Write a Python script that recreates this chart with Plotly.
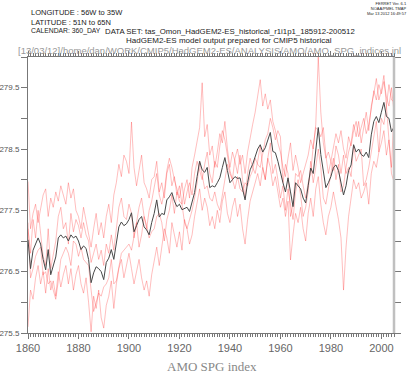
import plotly.graph_objects as go

years = list(range(1860, 2006))

ens_mean = [
    277.02, 276.55, 276.85, 276.95, 277.05, 276.95, 276.70, 276.53, 276.86, 276.45,
    276.60, 276.74, 277.05, 277.10, 277.05, 277.08, 277.00, 277.10, 277.05, 277.08,
    277.00, 276.86, 276.92, 276.88, 276.70, 276.32, 276.48, 276.58, 276.55, 276.50,
    276.37, 276.65, 276.72, 276.86, 276.70, 276.95, 277.23, 277.31, 277.25, 277.28,
    277.35, 277.46, 277.15, 277.25, 277.35, 277.40, 277.23, 277.18, 277.10, 277.30,
    277.45, 277.67, 277.39, 277.45, 277.43, 277.67, 277.72, 277.79, 277.65, 277.56,
    277.60, 277.51, 277.53, 277.55, 277.48, 277.62, 277.79, 278.05, 278.30, 278.16,
    278.12, 278.20, 277.87, 277.90, 277.88, 277.95, 278.03, 278.20, 278.36, 278.15,
    277.95, 278.00, 278.05, 278.02, 278.03, 277.85, 277.67, 277.95, 278.16, 278.25,
    278.37, 278.50, 278.57, 278.45, 278.52, 278.65, 278.77, 278.46, 278.44, 278.30,
    278.11, 277.95, 277.80, 278.03, 277.80, 277.56, 277.95, 277.90, 277.85, 277.70,
    277.62, 277.90, 278.19, 278.10, 278.45, 278.85, 278.41, 278.10, 277.87, 277.95,
    278.05, 278.20, 278.24, 278.15, 277.95, 277.75, 277.90, 278.15, 278.24, 278.57,
    278.45, 278.50, 278.41, 278.38, 278.45, 278.36, 278.73, 278.95, 279.03, 278.93,
    279.10, 279.26, 279.03, 279.00, 278.78, 278.86,
]

member_r1 = [
    277.97, 277.20, 277.45, 277.60, 277.30, 277.55, 277.75, 277.85, 277.40, 277.70,
    277.55, 277.80, 277.65, 277.90, 277.75, 277.60, 277.95, 277.70, 277.85, 277.50,
    277.40, 277.20, 277.55, 277.35, 277.10, 276.90, 277.20, 277.45, 277.10, 277.30,
    277.05, 277.40, 277.60, 277.30, 277.75, 277.95, 278.25, 278.05, 278.40, 278.30,
    278.10, 278.94, 278.20, 277.90, 278.15, 278.40, 277.95, 277.85, 277.70, 278.00,
    278.05, 278.30, 277.80, 277.95, 277.70, 278.10, 278.25, 277.90, 278.05, 277.75,
    277.90, 277.60, 277.85, 278.00, 277.70, 278.20, 278.40, 278.60, 278.85, 279.58,
    278.70, 278.90, 278.40, 278.55, 278.20, 278.45, 278.75, 278.60, 278.95, 278.50,
    278.20, 278.45, 278.30, 278.10, 278.40, 278.00, 277.70, 278.10, 278.35, 278.20,
    278.10, 278.30, 278.55, 278.20, 278.00, 278.35, 278.60, 278.10, 278.25, 278.00,
    277.70, 277.90, 277.50, 277.85, 277.60, 277.35, 277.80, 278.00, 277.75, 277.40,
    277.55, 277.80, 278.30, 277.95, 278.20, 278.50, 278.20, 277.70, 277.60, 277.85,
    278.10, 278.35, 278.00, 278.25, 277.80, 277.90, 278.20, 278.45, 278.60, 278.90,
    278.70, 278.95, 278.60, 278.85, 279.10, 278.80, 279.20, 279.40, 279.65, 279.30,
    279.45, 279.70, 279.20, 279.55, 279.30, 279.27,
]

member_r2 = [
    275.60, 276.20, 276.05, 276.40, 276.60, 276.30, 276.50, 276.15, 276.55, 276.20,
    276.35, 276.10, 276.50, 276.25, 276.45, 276.60, 276.30, 276.55, 276.20, 276.45,
    276.60, 276.30, 276.15, 276.40, 276.00, 275.52, 276.10, 275.90, 276.20, 275.75,
    275.58, 275.95, 276.10, 276.35, 275.90, 276.30, 276.55, 276.70, 276.40, 276.60,
    276.80, 276.55, 276.30, 276.50, 276.70, 276.40, 276.20, 276.35, 276.10, 276.45,
    276.70, 276.90, 276.60, 276.95, 277.20, 277.05, 276.80, 277.30, 277.10, 276.90,
    277.15, 276.85, 277.35, 277.20, 276.95, 277.10, 277.40, 277.60, 277.85, 277.50,
    277.70, 277.55, 277.25, 277.40, 277.20, 277.50, 277.30, 277.65, 277.80, 277.45,
    277.30, 277.55, 277.70, 277.40, 277.60, 277.20, 276.95, 277.35, 277.65, 277.80,
    277.95, 278.10, 277.90, 278.20, 278.00, 278.35, 278.20, 277.90, 278.05, 277.80,
    277.55, 277.70, 277.40, 277.65, 276.69, 277.10, 277.45, 277.30, 277.55, 277.20,
    277.00, 277.45, 277.70, 277.40, 277.85, 278.05, 277.60, 277.30, 277.10, 277.40,
    277.55, 277.80, 277.60, 277.35, 277.05, 276.20, 276.90, 277.40, 277.70, 278.00,
    277.85, 277.95, 277.70, 277.80, 277.95, 277.60, 278.10, 278.30, 278.20, 278.45,
    278.60, 278.80, 278.40, 278.65, 278.10, 277.96,
]

member_r3 = [
    277.20, 276.80, 277.35, 277.05, 277.50, 277.10, 276.75, 276.60, 277.20, 276.55,
    276.80, 277.00, 277.40, 277.55, 277.20, 277.30, 276.95, 277.45, 277.15, 277.35,
    277.25, 277.05, 277.30, 277.10, 277.00, 276.65, 276.80, 276.95, 276.70, 276.85,
    276.60, 276.95, 276.80, 277.10, 276.85, 277.20, 277.55, 277.70, 277.40, 277.35,
    277.60, 277.45, 277.05, 277.30, 277.55, 277.70, 277.40, 277.20, 277.50, 277.65,
    277.85, 278.10, 277.75, 277.60, 277.80, 278.15, 278.35, 278.20, 278.00, 277.85,
    277.70, 277.95, 277.60, 277.80, 277.95, 277.75, 278.10, 278.30, 278.15, 278.00,
    278.25, 278.45, 278.10, 277.95, 278.30, 278.20, 278.55, 278.80, 278.65, 278.40,
    278.15, 278.00, 278.35, 278.50, 278.25, 278.40, 278.10, 278.45, 278.70, 278.90,
    279.10, 279.35, 279.63, 279.20, 279.40, 279.15, 279.30, 278.95, 278.80, 278.60,
    278.45, 278.20, 278.05, 278.35, 278.60, 278.15, 278.40, 278.20, 277.95, 278.10,
    278.25, 278.40, 278.65, 278.50, 278.90, 280.00, 279.10, 278.60, 278.35, 278.45,
    278.30, 278.55, 278.75, 278.60, 278.80, 278.50, 278.35, 278.70, 278.55, 278.80,
    278.95, 278.70, 278.85, 279.00, 278.75, 278.90, 279.15, 279.45, 279.30, 279.55,
    279.40, 279.60, 279.35, 279.20, 279.50, 279.10,
]

member_r4 = [
    277.30, 276.40, 276.55, 276.75, 276.85, 276.90, 276.45, 276.50, 276.30, 276.35,
    276.20, 276.05, 276.35, 276.70, 276.80, 276.90, 276.80, 276.60, 277.00, 276.95,
    276.75, 276.90, 276.70, 276.65, 276.60, 276.20, 275.85, 276.00, 276.15, 276.10,
    276.25, 276.30, 276.40, 276.70, 276.30, 276.35, 276.60, 276.80, 276.85, 276.90,
    276.95, 276.85, 277.05, 277.30, 276.90, 277.10, 277.40, 277.25, 277.05, 277.15,
    277.20, 277.40, 277.45, 277.30, 277.00, 277.35, 277.50, 277.75, 277.45, 277.80,
    277.65, 277.60, 277.30, 277.20, 277.35, 277.50, 277.70, 277.95, 278.30, 278.10,
    277.85, 277.90, 277.70, 277.65, 277.80, 277.60, 277.50, 277.75, 278.00, 278.25,
    278.10, 278.00, 277.85, 278.05, 277.85, 277.80, 277.95, 277.90, 278.05, 278.15,
    278.35, 278.25, 278.20, 278.40, 278.65, 278.75, 279.00, 278.85, 278.65, 278.80,
    278.70, 277.95, 278.25, 278.10, 277.40, 277.60, 278.10, 278.05, 278.15, 277.90,
    277.70, 277.95, 278.10, 278.55, 278.85, 278.80, 278.70, 278.85, 278.40, 278.10,
    278.30, 278.15, 278.55, 278.40, 278.10, 278.40, 278.10, 278.20, 278.05, 278.55,
    278.30, 278.40, 278.50, 277.90, 278.00, 278.20, 278.45, 278.70, 278.95, 278.45,
    279.00, 278.90, 279.20, 278.65, 278.20, 279.10,
]

members = [member_r1, member_r2, member_r3, member_r4]

y_tickvals = [275.5, 276.5, 277.5, 278.5, 279.5]
y_ticktext = ["275.5", "276.5", "277.5", "278.5", "279.5"]
x_tickvals = [1860, 1880, 1900, 1920, 1940, 1960, 1980, 2000]
x_ticktext = ["1860", "1880", "1900", "1920", "1940", "1960", "1980", "2000"]

fig = go.Figure()
for m in members:
    fig.add_trace(go.Scatter(x=years, y=m, mode="lines",
                             line=dict(color="rgba(255,40,40,0.3)", width=1),
                             hoverinfo="skip", showlegend=False))
fig.add_trace(go.Scatter(x=years, y=ens_mean, mode="lines",
                         line=dict(color="#484848", width=1),
                         showlegend=False))

W, H = 419, 374
# plot area in window pixels: x 28..394, y 57..333
ML, MT = 28, 57
MR = W - 394
MB = H - 333

axis_col = "#777777"
fig.update_layout(
    width=W, height=H,
    margin=dict(l=ML, r=MR, t=MT, b=MB, autoexpand=False),
    paper_bgcolor="white", plot_bgcolor="white",
    font=dict(family="Liberation Sans, Arial", color="#555555"),
    xaxis=dict(range=[1860, 2005], tickvals=x_tickvals, ticktext=x_ticktext,
               automargin=False,
               showgrid=False, zeroline=False, showline=True, linecolor=axis_col,
               linewidth=1, mirror="ticks", ticks="outside", ticklen=5,
               tickcolor=axis_col, tickfont=dict(size=11, color="#666666"),
               minor=dict(dtick=1, tick0=1860, ticklen=3, ticks="outside",
                          tickcolor=axis_col, showgrid=False)),
    yaxis=dict(range=[275.5, 280.0], tickvals=y_tickvals, ticktext=y_ticktext,
               automargin=False,
               showgrid=False, zeroline=False, showline=True, linecolor=axis_col,
               linewidth=1, mirror="ticks", ticks="outside", ticklen=6,
               tickcolor=axis_col, tickfont=dict(size=8, color="#555555"),
               minor=dict(dtick=0.5, tick0=275.5, ticklen=6, ticks="outside",
                          tickcolor=axis_col, showgrid=False)),
)

# right axis line drawn lighter and thicker, as in the reference
fig.add_shape(type="line", xref="paper", yref="paper", x0=1, x1=1, y0=0, y1=1,
              line=dict(color="#c0c0c0", width=2.5))


def px(xw):
    return (xw - ML) / (W - ML - MR)


def py(yw):
    return (H - MB - yw) / (H - MT - MB)


def txt(x, y, s, size, color="#222222", anchor="left", family="Liberation Sans, Arial",
        align="left"):
    fig.add_annotation(x=px(x), y=py(y), xref="paper", yref="paper", text=s,
                       showarrow=False, xanchor=anchor, yanchor="middle", align=align,
                       font=dict(size=size, color=color, family=family))


txt(29, 13, "LONGITUDE : 56W to 35W", 7.5)
txt(29, 22, "LATITUDE : 51N to 65N", 7.5)
txt(29, 31, "CALENDAR: 360_DAY", 6.8)
txt(103, 31, "DATA SET: tas_Omon_HadGEM2-ES_historical_r1i1p1_185912-200512", 7.8)
txt(229, 41, "HadGEM2-ES model output prepared for CMIP5 historical", 8, anchor="center")
txt(209, 51, "[13/03/12]/home/dan/WORK/CMIP5/HadGEM2-ES/ANALYSIS/AMO/AMO_SPG_indices.jnl",
    9.5, color="#999999", anchor="center")
txt(409, 8, "FERRET Ver. 6.1<br>NOAA/PMEL TMAP<br>Mar 13 2012 16:49:57", 4,
    anchor="right", align="right")
txt(212, 366, "AMO SPG index", 13, color="#888888", anchor="center",
    family="Liberation Serif, Times New Roman")

# remove the default 8px page margin so the figure sits at the window corner
fig.write_html("out.html", config={"displayModeBar": False},
               post_script="document.body.style.margin='0';")
